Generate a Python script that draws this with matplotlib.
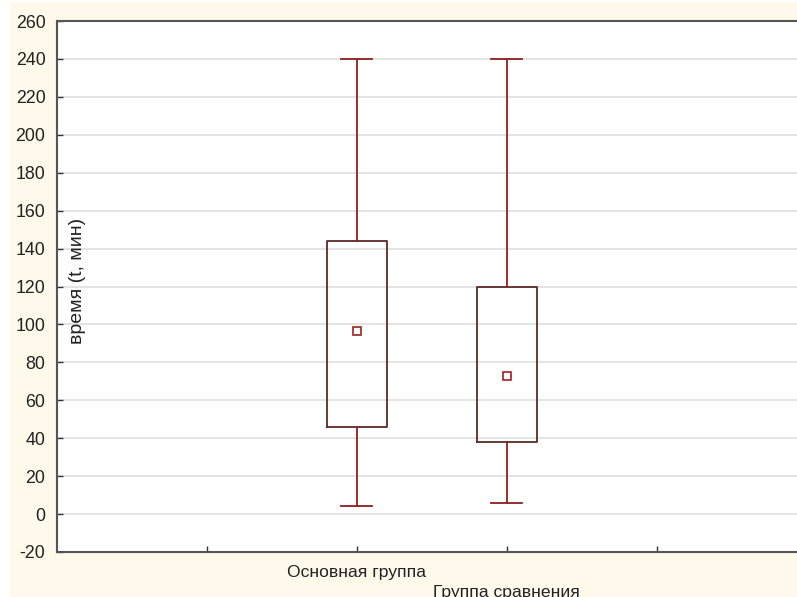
import matplotlib
matplotlib.use("Agg")
import matplotlib.pyplot as plt
from matplotlib.patches import Rectangle

# Box plot of time by group
groups = ["Основная группа", "Группа сравнения"]
positions = [2, 3]
whisker_low = [4, 6]
q1 = [46, 38]
q3 = [144, 120]
whisker_high = [240, 240]
means = [96.5, 73]

yticks = list(range(-20, 261, 20))

plt.rcParams["font.family"] = ["Liberation Sans", "DejaVu Sans"]

W, H = 797, 597
fig = plt.figure(figsize=(W / 100, H / 100), dpi=100, facecolor="#FFF9EC")
fig.patches.append(Rectangle((0, 0), 10 / W, 1, transform=fig.transFigure,
                             facecolor="white", edgecolor="none", zorder=-1))
fig.patches.append(Rectangle((0, 1 - 2 / H), 1, 2 / H, transform=fig.transFigure,
                             facecolor="white", edgecolor="none", zorder=-1))

left, right, top, bottom = 56.5, 797, 21, 552
ax = fig.add_axes([left / W, 1 - bottom / H, (right - left) / W, (bottom - top) / H])
ax.set_facecolor("white")

stats = []
for i in range(len(groups)):
    stats.append(dict(med=means[i], q1=q1[i], q3=q3[i], whislo=whisker_low[i],
                      whishi=whisker_high[i], mean=means[i], fliers=[]))

wcol = "#8E1F1F"
ax.bxp(stats, positions=positions, widths=0.4, showmeans=True, showfliers=False,
       boxprops=dict(color="#5C2A2A", linewidth=1.3),
       whiskerprops=dict(color=wcol, linewidth=1.3),
       capprops=dict(color=wcol, linewidth=1.3),
       capwidths=0.21,
       medianprops=dict(visible=False),
       meanprops=dict(marker="s", markersize=6, markerfacecolor="white",
                      markeredgecolor="#A02020", markeredgewidth=1.2))

ax.set_xlim(0, (right - left) / 150)
ax.set_ylim(-20, 260)
ax.set_yticks(yticks)
ax.set_yticklabels([str(v) for v in yticks], fontsize=12.8, color="#222222")
ax.set_xticks([1, 2, 3, 4])
ax.set_xticklabels(["", groups[0], "\n" + groups[1], ""], fontsize=12.6,
                   color="#222222", linespacing=1.4)

for y in yticks[1:-1]:
    ax.axhline(y, color="#E2E2E2", linewidth=1.3, zorder=0)

for s in ["left", "top", "bottom"]:
    ax.spines[s].set_color("#555555")
    ax.spines[s].set_linewidth(1.5)
ax.spines["right"].set_visible(False)

ax.tick_params(axis="y", direction="in", length=4, width=1, color="#333333", pad=8)
ax.tick_params(axis="x", direction="in", length=4, width=1, color="#333333", pad=9.5)

ax.text(0.028, 0.51, "время (t, мин)", transform=ax.transAxes, rotation=90,
        ha="center", va="center", fontsize=14, color="#222222")

fig.savefig("out.png", dpi=100, facecolor=fig.get_facecolor())
